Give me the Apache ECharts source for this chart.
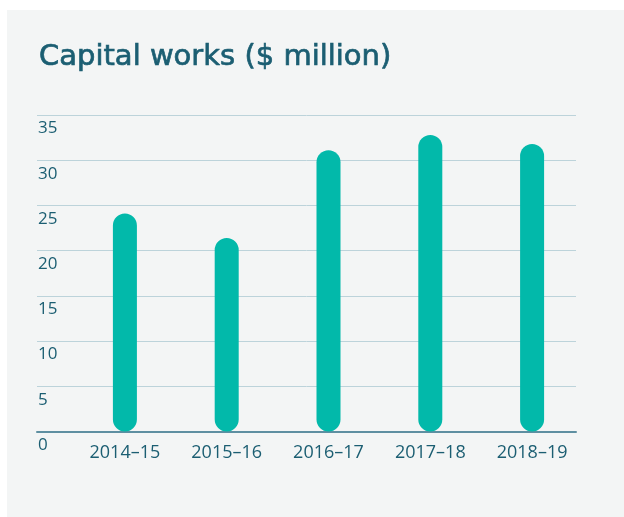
<!DOCTYPE html>
<html>
<head>
<meta charset="utf-8">
<script src="https://cdn.jsdelivr.net/npm/echarts@6/dist/echarts.min.js"></script>
<style>
html,body{margin:0;padding:0;background:#ffffff;}
#c{width:624px;height:517px;}
</style>
</head>
<body>
<div id="c"></div>
<script>
const titleText = 'Capital works ($ million)';
const categories = ['2014–15', '2015–16', '2016–17', '2017–18', '2018–19'];
const values = [24.1, 21.4, 31.1, 32.8, 31.8];
const yTicks = [0, 5, 10, 15, 20, 25, 30, 35];

const textColor = '#1b5e72';
const chart = echarts.init(document.getElementById('c'), null, {renderer: 'canvas'});
const font = '"Open Sans", sans-serif';
chart.setOption({
  backgroundColor: '#ffffff',
  animation: false,
  graphic: [{
    type: 'rect', z: -10, silent: true,
    shape: {x: 7, y: 10, width: 617, height: 507},
    style: {fill: '#f3f5f5'}
  }],
  title: {
    text: titleText, left: 34, top: 38,
    textStyle: {color: textColor, fontFamily: '"DejaVu Sans", sans-serif', fontSize: 29, fontWeight: 'normal',
      textBorderColor: textColor, textBorderWidth: 0.7}
  },
  grid: [
    {left: 37, right: 48, top: 115, bottom: 85.5},
    {left: 74, width: 509, top: 115, bottom: 85.5}
  ],
  xAxis: [
    {type: 'category', gridIndex: 0, data: categories,
     axisLine: {show: true, lineStyle: {color: '#5e8fa1', width: 2}},
     axisTick: {show: false}, axisLabel: {show: false}, splitLine: {show: false}},
    {type: 'category', gridIndex: 1, data: categories,
     axisLine: {show: false}, axisTick: {show: false},
     axisLabel: {color: textColor, fontFamily: font, fontSize: 18, margin: 12}}
  ],
  yAxis: [
    {type: 'value', gridIndex: 0, min: 0, max: 35, interval: 5,
     axisLine: {show: false}, axisTick: {show: false},
     splitLine: {lineStyle: {color: '#bcd3da', width: 1}},
     axisLabel: {inside: true, margin: 1, align: 'left', verticalAlign: 'top', padding: [5, 0, 0, 0],
       color: textColor, fontFamily: font, fontSize: 17,
       formatter: v => yTicks.indexOf(v) >= 0 ? String(v) : ''}},
    {type: 'value', gridIndex: 1, min: 0, max: 35, interval: 5, show: false}
  ],
  series: [{
    type: 'bar', xAxisIndex: 1, yAxisIndex: 1, data: values,
    barWidth: 24,
    itemStyle: {color: '#02b9aa', borderRadius: 12}
  }]
});
</script>
</body>
</html>
